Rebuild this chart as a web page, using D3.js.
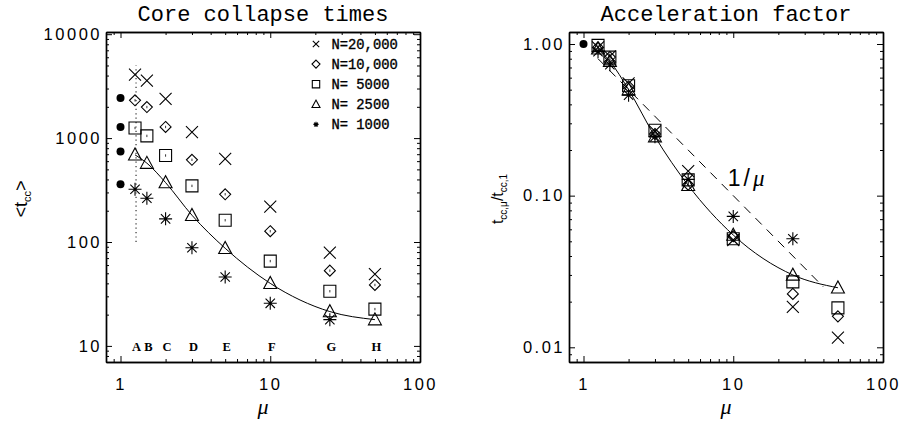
<!DOCTYPE html>
<html>
<head>
<meta charset="utf-8">
<script src="https://cdn.jsdelivr.net/npm/d3@7"></script>
<style>
  body { margin: 0; background: #fff; }
  svg { display: block; }
</style>
</head>
<body>
<svg id="chart" width="902" height="424"></svg>
<script>
// ---- data ----
const muValues = [1.25, 1.5, 2, 3, 5, 10, 25, 50];
const runLabels = ["A", "B", "C", "D", "E", "F", "G", "H"];
const seriesNames = ["N=20,000", "N=10,000", "N= 5000", "N= 2500", "N= 1000"];
const seriesSymbols = ["x", "diamond", "square", "triangle", "asterisk"];

// core collapse times <t_cc>
const tcc20000 = [4080, 3570, 2380, 1140, 630, 219, 79, 49];
const tcc10000 = [2310, 1990, 1280, 618, 288, 127, 53, 38.6];
const tcc5000  = [1250, 1050, 680, 347, 162, 65.5, 33.6, 22.6];
const tcc2500  = [690, 574, 373, 181, 87, 40, 21.4, 17.9];
const tcc1000  = [322, 264, 167, 88, 46, 25.7, 17.9, null];
const tccSingleMass = [2430, 1280, 745, 360];   // mu = 1 runs (filled dots)
const dottedMu = 1.27, dottedRange = [100, 5000];

// acceleration factor t_cc,mu / t_cc,1
const acc20000 = [0.95, 0.83, 0.55, 0.265, 0.145, 0.051, 0.0185, 0.0116];
const acc10000 = [0.95, 0.82, 0.525, 0.255, 0.118, 0.054, 0.0225, 0.016];
const acc5000  = [0.98, 0.82, 0.53, 0.27, 0.127, 0.052, 0.027, 0.0182];
const acc2500  = [0.93, 0.77, 0.50, 0.245, 0.117, 0.055, 0.030, 0.0247];
const acc1000  = [0.89, 0.73, 0.46, 0.245, 0.128, 0.073, 0.052, null];
const accSingleMass = [1.0];
const inverseMu = [1.25, 40];   // 1/mu reference line

const tccSeries = [tcc20000, tcc10000, tcc5000, tcc2500, tcc1000];
const accSeries = [acc20000, acc10000, acc5000, acc2500, acc1000];

const svg = d3.select("#chart");
const monoFont = "'Liberation Mono', monospace";
const sansFont = "'Liberation Sans', sans-serif";
const serifFont = "'Liberation Serif', serif";

let xL = d3.scaleLog().domain([0.8, 100]).range([106, 420]);
let yL = d3.scaleLog().domain([7, 10500]).range([362, 32]);
let xR = d3.scaleLog().domain([0.8, 100]).range([569, 883]);
let yR = d3.scaleLog().domain([0.008, 1.2]).range([362, 32]);

function symbolPath(type, r) {
    let p = d3.path();
    if (type === "x") {
        p.moveTo(-r, -r); p.lineTo(r, r);
        p.moveTo(-r, r); p.lineTo(r, -r);
    } else if (type === "diamond") {
        p.moveTo(0, -r); p.lineTo(r, 0); p.lineTo(0, r); p.lineTo(-r, 0); p.closePath();
    } else if (type === "square") {
        p.rect(-r, -r, 2 * r, 2 * r);
    } else if (type === "triangle") {
        p.moveTo(-r, r * 0.8); p.lineTo(r, r * 0.8); p.lineTo(0, -r * 1.05); p.closePath();
    } else if (type === "asterisk") {
        let d = r * 0.72;
        p.moveTo(0, -r); p.lineTo(0, r);
        p.moveTo(-r, 0); p.lineTo(r, 0);
        p.moveTo(-d, -d); p.lineTo(d, d);
        p.moveTo(-d, d); p.lineTo(d, -d);
    }
    return p.toString();
}
const symbolSize = {x: 6, diamond: 5.5, square: 6, triangle: 6.5, asterisk: 6.5};

function isMajor(t) {
    let l = Math.log10(t);
    return Math.abs(l - Math.round(l)) < 1e-9;
}

function styleAxis(g) {
    g.selectAll("path.domain").attr("stroke", "#000").attr("stroke-width", 1.4);
    g.selectAll(".tick line").attr("stroke", "#000").attr("stroke-width", 1);
    g.selectAll("text")
        .attr("fill", "#000")
        .style("font-family", sansFont)
        .style("font-size", "16.5px")
        .style("letter-spacing", "2.5px");
}

function drawFrame(x, y, yMajor, yFormat) {
    let [xa, xb] = x.range();
    let [ya, yb] = y.range();
    let xMinor = x.ticks().filter(t => !isMajor(t));
    let yMinor = y.ticks().filter(t => !isMajor(t));
    let xMajor = [1, 10, 100];

    // bottom with labels
    svg.append("g").attr("transform", `translate(0,${ya})`)
        .call(d3.axisBottom(x).tickValues(xMajor).tickFormat(d3.format("d"))
            .tickSizeInner(-6).tickSizeOuter(0).tickPadding(16))
        .call(styleAxis);
    svg.append("g").attr("transform", `translate(0,${ya})`)
        .call(d3.axisBottom(x).tickValues(xMinor).tickFormat("").tickSizeInner(-3).tickSizeOuter(0))
        .call(styleAxis);
    // top
    svg.append("g").attr("transform", `translate(0,${yb})`)
        .call(d3.axisTop(x).tickValues(xMajor).tickFormat("").tickSizeInner(-6).tickSizeOuter(0))
        .call(styleAxis);
    svg.append("g").attr("transform", `translate(0,${yb})`)
        .call(d3.axisTop(x).tickValues(xMinor).tickFormat("").tickSizeInner(-3).tickSizeOuter(0))
        .call(styleAxis);
    // left with labels
    svg.append("g").attr("transform", `translate(${xa},0)`)
        .call(d3.axisLeft(y).tickValues(yMajor).tickFormat(yFormat)
            .tickSizeInner(-6).tickSizeOuter(0).tickPadding(4))
        .call(styleAxis);
    svg.append("g").attr("transform", `translate(${xa},0)`)
        .call(d3.axisLeft(y).tickValues(yMinor).tickFormat("").tickSizeInner(-3).tickSizeOuter(0))
        .call(styleAxis);
    // right
    svg.append("g").attr("transform", `translate(${xb},0)`)
        .call(d3.axisRight(y).tickValues(yMajor).tickFormat("").tickSizeInner(-6).tickSizeOuter(0))
        .call(styleAxis);
    svg.append("g").attr("transform", `translate(${xb},0)`)
        .call(d3.axisRight(y).tickValues(yMinor).tickFormat("").tickSizeInner(-3).tickSizeOuter(0))
        .call(styleAxis);

    // mu label
    svg.append("text")
        .attr("x", (xa + xb) / 2).attr("y", 414)
        .attr("text-anchor", "middle")
        .style("font-family", serifFont).style("font-style", "italic")
        .style("font-size", "22px")
        .text("μ");
}

function drawSeries(x, y, values, withBars) {
    values.forEach(function(series, si) {
        let type = seriesSymbols[si];
        let pts = muValues.map((m, i) => ({mu: m, v: series[i]})).filter(d => d.v != null);
        let g = svg.append("g");
        g.selectAll("path")
            .data(pts)
          .enter().append("path")
            .attr("transform", d => `translate(${x(d.mu)},${y(d.v)})`)
            .attr("d", symbolPath(type, symbolSize[type]))
            .attr("fill", "none")
            .attr("stroke", "#000")
            .attr("stroke-width", 1.1);
        if (withBars && (type === "diamond" || type === "square")) {
            g.selectAll("line")
                .data(pts)
              .enter().append("line")
                .attr("x1", d => x(d.mu)).attr("x2", d => x(d.mu))
                .attr("y1", d => y(d.v) - 1.2).attr("y2", d => y(d.v) + 1.2)
                .attr("stroke", "#000").attr("stroke-width", 0.8);
        }
    });
}

function fitLine(x, y, series) {
    let pts = muValues.map((m, i) => [m, series[i]]).filter(d => d[1] != null);
    svg.append("path")
        .datum(pts)
        .attr("fill", "none")
        .attr("stroke", "#000")
        .attr("stroke-width", 1)
        .attr("d", d3.line().x(d => x(d[0])).y(d => y(d[1])).curve(d3.curveMonotoneX));
}

// ---------- left panel ----------
svg.append("text")
    .attr("x", (xL.range()[0] + xL.range()[1]) / 2).attr("y", 21)
    .attr("text-anchor", "middle")
    .style("font-family", monoFont).style("font-size", "22px")
    .text("Core collapse times");

drawFrame(xL, yL, [10, 100, 1000, 10000], d3.format("d"));

svg.append("line")
    .attr("x1", xL(dottedMu)).attr("x2", xL(dottedMu))
    .attr("y1", yL(dottedRange[0])).attr("y2", yL(dottedRange[1]))
    .attr("stroke", "#666").attr("stroke-width", 1.6)
    .attr("stroke-dasharray", "1.2,3.2");

fitLine(xL, yL, tcc2500);
drawSeries(xL, yL, tccSeries, true);

svg.append("g").selectAll("circle")
    .data(tccSingleMass)
  .enter().append("circle")
    .attr("cx", xL(1)).attr("cy", d => yL(d)).attr("r", 4).attr("fill", "#000");

svg.append("g").selectAll("text")
    .data(runLabels)
  .enter().append("text")
    .attr("x", (d, i) => xL(muValues[i]) + 1.5)
    .attr("y", yL(10) + 5)
    .attr("text-anchor", "middle")
    .style("font-family", serifFont).style("font-weight", "bold")
    .style("font-size", "12.5px")
    .text(d => d);

// legend
let legend = svg.append("g").attr("transform", "translate(316,44)");
seriesNames.forEach(function(name, i) {
    let row = legend.append("g").attr("transform", `translate(0,${i * 20.1})`);
    let type = seriesSymbols[i];
    let r = {x: 3.2, diamond: 4, square: 3.7, triangle: 4, asterisk: 2.6}[type];
    row.append("path")
        .attr("d", symbolPath(type, r))
        .attr("fill", "none").attr("stroke", "#000").attr("stroke-width", 1.1);
    row.append("text")
        .attr("x", 15.5).attr("y", 5)
        .style("font-family", monoFont).style("font-size", "13.8px")
        .style("white-space", "pre")
        .style("stroke", "#000").style("stroke-width", 0.35)
        .text(name);
});

// y label <t_cc>
let yLabL = svg.append("text")
    .attr("transform", "translate(27,199) rotate(-90)")
    .attr("text-anchor", "middle")
    .style("font-family", sansFont).style("font-size", "18px");
yLabL.append("tspan").text("<t");
yLabL.append("tspan").attr("dy", 4).style("font-size", "11px").text("cc");
yLabL.append("tspan").attr("dy", -4).text(">");

// ---------- right panel ----------
svg.append("text")
    .attr("x", (xR.range()[0] + xR.range()[1]) / 2).attr("y", 21)
    .attr("text-anchor", "middle")
    .style("font-family", monoFont).style("font-size", "22px")
    .text("Acceleration factor");

drawFrame(xR, yR, [0.01, 0.1, 1], d3.format(".2f"));

svg.append("line")
    .attr("x1", xR(inverseMu[0])).attr("y1", yR(1 / inverseMu[0]))
    .attr("x2", xR(inverseMu[1])).attr("y2", yR(1 / inverseMu[1]))
    .attr("stroke", "#000").attr("stroke-width", 1)
    .attr("stroke-dasharray", "9,7");

fitLine(xR, yR, acc2500);
drawSeries(xR, yR, accSeries, false);

svg.append("g").selectAll("circle")
    .data(accSingleMass)
  .enter().append("circle")
    .attr("cx", xR(1)).attr("cy", d => yR(d)).attr("r", 4).attr("fill", "#000");

let invLab = svg.append("text")
    .attr("x", xR(9.2)).attr("y", yR(0.116))
    .style("font-family", sansFont).style("font-size", "23px")
    .style("letter-spacing", "3px");
invLab.append("tspan").text("1/");
invLab.append("tspan").style("font-family", serifFont).style("font-style", "italic").text("μ");

let yLabR = svg.append("text")
    .attr("transform", "translate(503,199) rotate(-90)")
    .attr("text-anchor", "middle")
    .style("font-family", sansFont).style("font-size", "16px");
yLabR.append("tspan").text("t");
yLabR.append("tspan").attr("dy", 4).style("font-size", "10px").text("cc,μ");
yLabR.append("tspan").attr("dy", -4).text("/t");
yLabR.append("tspan").attr("dy", 4).style("font-size", "10px").text("cc,1");
</script>
</body>
</html>
